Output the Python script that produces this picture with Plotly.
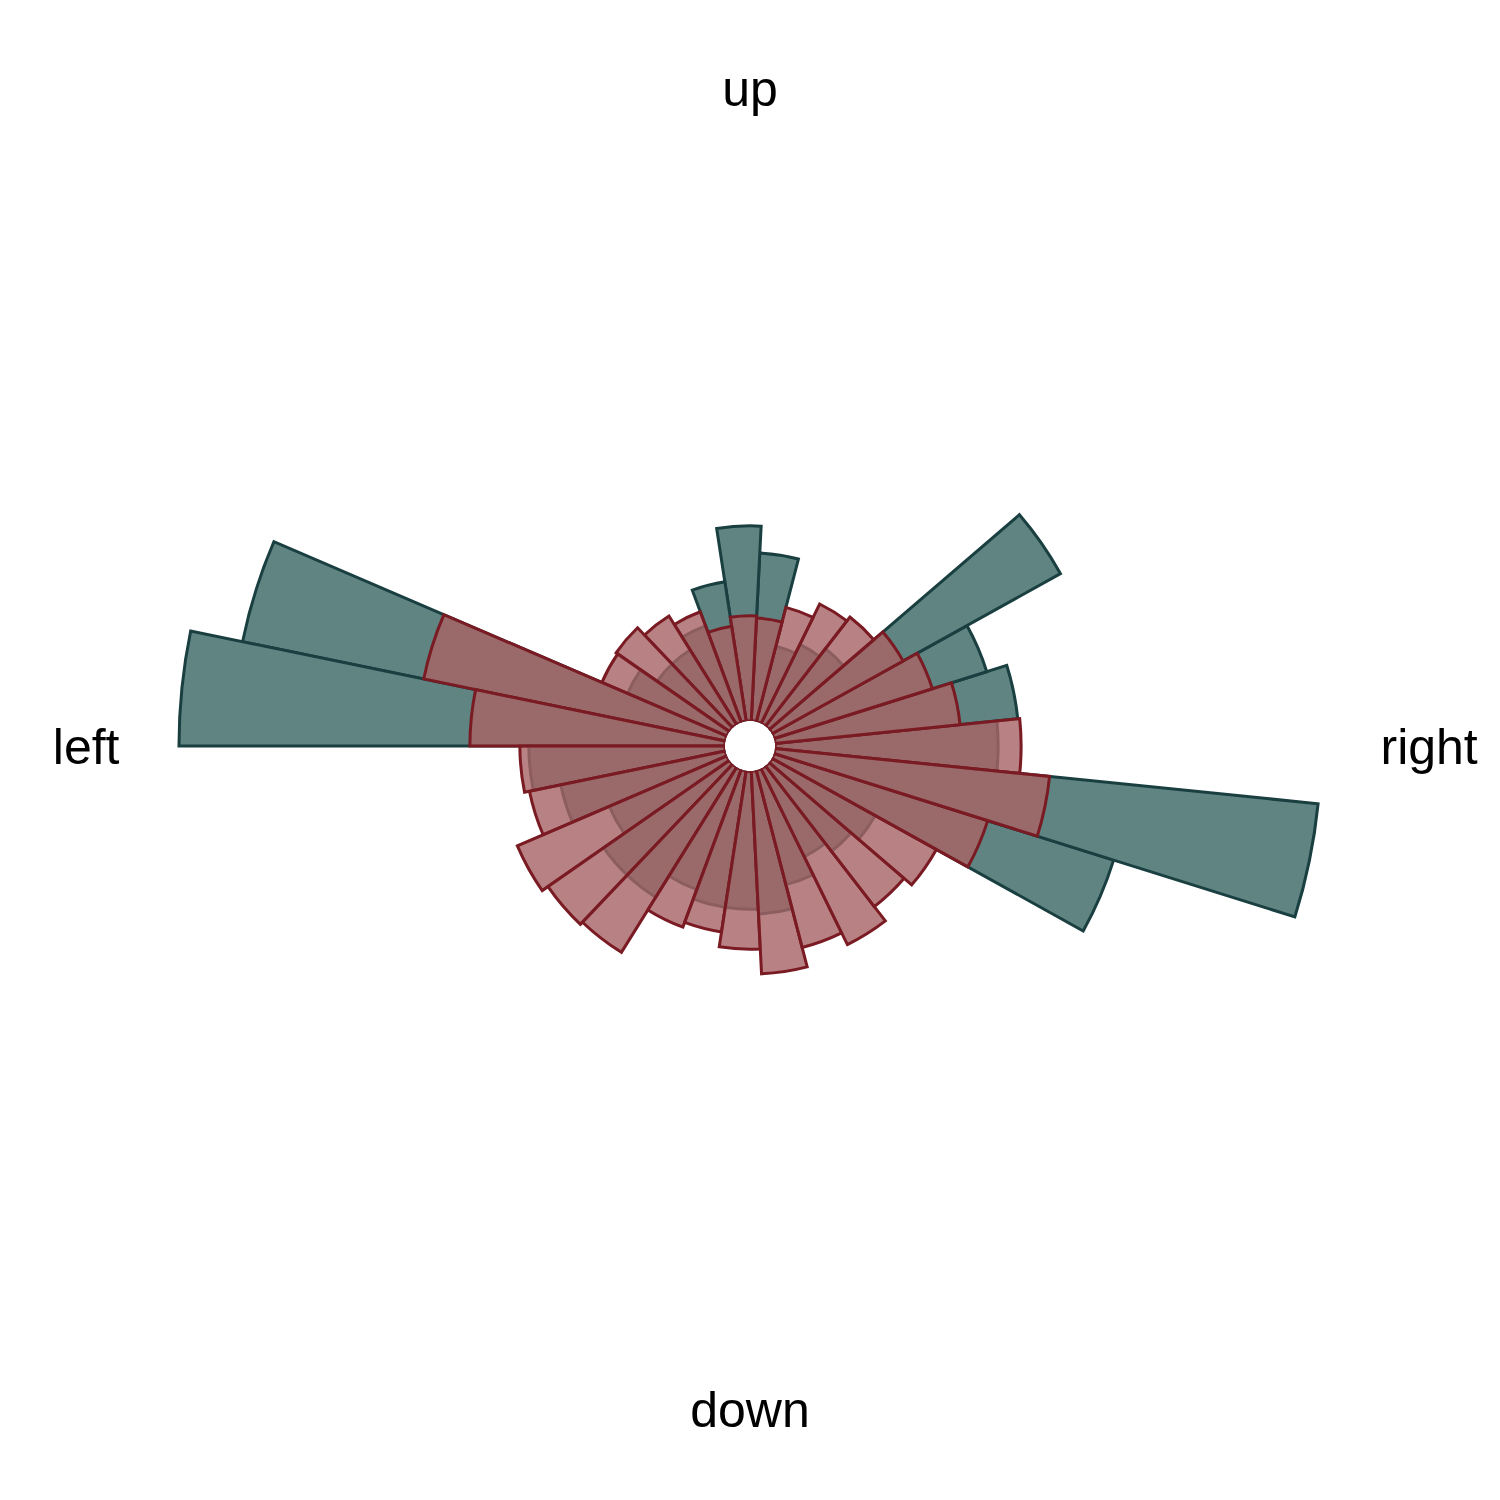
import plotly.graph_objects as go

n_bins = 31
bin_width = 360 / n_bins
theta = [k * bin_width for k in range(n_bins)]

# radial lengths (one value per bin, counter-clockwise from "right")
teal_r = [223, 244, 223, 330, 98, 88, 78, 168, 195, 141, 103, 88, 88, 108, 493, 546,
          196, 168, 128, 153, 153, 128, 138, 138, 143, 118, 98, 108, 118, 356, 546]
red_r = [246, 186, 166, 150, 138, 133, 118, 103, 105, 96, 118, 128, 138, 136, 308, 255,
         205, 200, 228, 221, 218, 168, 163, 178, 203, 183, 196, 178, 188, 224, 276]

tick_vals = [0, 90, 180, 270]
tick_text = ["right", "up", "left", "down"]

fig = go.Figure()
fig.add_trace(go.Barpolar(
    r=teal_r, theta=theta, width=bin_width,
    marker=dict(color="#5f8482", line=dict(color="#1a3f40", width=3)),
    name="a",
))
fig.add_trace(go.Barpolar(
    r=red_r, theta=theta, width=bin_width,
    marker=dict(color="rgba(168,100,102,0.81)", line=dict(color="#7a1a22", width=3)),
    name="b",
))

fig.update_layout(
    width=1500, height=1500,
    margin=dict(l=112, r=128, t=108, b=132),
    paper_bgcolor="white",
    showlegend=False,
    font=dict(family="Liberation Sans, Arial", size=50, color="black"),
    polar=dict(
        bgcolor="white",
        hole=0.04,
        barmode="overlay",
        radialaxis=dict(range=[0, 605], visible=False, showgrid=False),
        angularaxis=dict(
            direction="counterclockwise", rotation=0,
            tickmode="array", tickvals=tick_vals, ticktext=tick_text,
            showgrid=False, showline=False, ticks="",
            tickfont=dict(size=50),
        ),
    ),
)

fig.write_html("out.html")
